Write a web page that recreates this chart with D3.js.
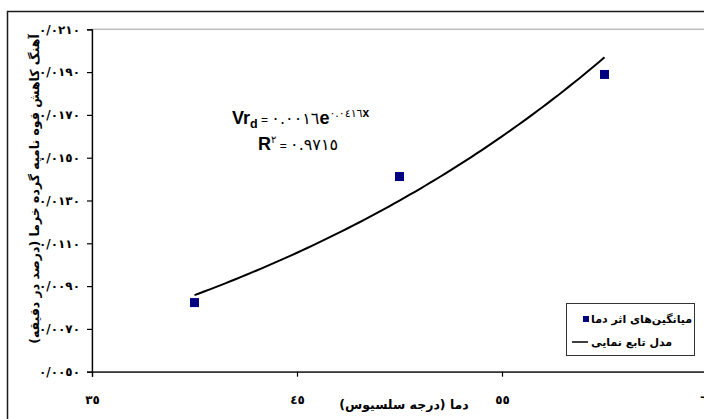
<!DOCTYPE html>
<html>
<head>
<meta charset="utf-8">
<script src="https://cdn.jsdelivr.net/npm/d3@7"></script>
<style>
  html, body { margin: 0; padding: 0; background: #fff; }
  svg { display: block; }
</style>
</head>
<body>
<svg id="chart" width="704" height="419"></svg>
<script>
// Temperature (°C) and mean rate of viability loss of date-palm pollen (% per minute)
const temperatures = [40, 50, 60];
const rates = [0.00823, 0.01412, 0.01889];

const xTickValues = [35, 45, 55, 65];
const xTickLabels = ["٣٥", "٤٥", "٥٥", "٦٥"];
const yTickValues = [0.005, 0.007, 0.009, 0.011, 0.013, 0.015, 0.017, 0.019, 0.021];
const yTickLabels = ["٠/٠٠٥٠", "٠/٠٠٧٠", "٠/٠٠٩٠", "٠/٠١١٠", "٠/٠١٣٠", "٠/٠١٥٠", "٠/٠١٧٠", "٠/٠١٩٠", "٠/٠٢١٠"];

const xTitle = "دما (درجه سلسیوس)";
const yTitle = "آهنگ کاهش قوه نامیه گرده خرما (درصد در دقیقه)";
const legendLabels = ["میانگین‌های اثر دما", "مدل تابع نمایی"];
const eqCoef = "٠.٠٠١٦";
const eqExp = "٠.٠٤١٦";
const r2Text = "٠.٩٧١٥";

const LRM = "\u200E";
const svg = d3.select("#chart");
const FA = "'DejaVu Sans', sans-serif";
const LAT = "'Liberation Sans', Arial, sans-serif";

// outer chart frame
svg.append("rect")
  .attr("x", 7.5).attr("y", 11.5)
  .attr("width", 740).attr("height", 440)
  .attr("fill", "#fff").attr("stroke", "#1a1a1a").attr("stroke-width", 1.5);

const x = d3.scaleLinear().domain([35, 65]).range([92, 707]);
const y = d3.scaleLinear().domain([0.005, 0.021]).range([371.7, 29.3]);

// plot area border (grey)
svg.append("rect")
  .attr("x", x(35)).attr("y", y(0.021))
  .attr("width", x(65) - x(35)).attr("height", y(0.005) - y(0.021))
  .attr("fill", "none").attr("stroke", "#bdbdbd").attr("stroke-width", 1.5);

// axes
const xAxis = d3.axisBottom(x).tickValues(xTickValues).tickSize(5).tickPadding(19)
  .tickFormat((d, i) => xTickLabels[i]);
const yAxis = d3.axisLeft(y).tickValues(yTickValues).tickSize(5).tickPadding(7)
  .tickFormat((d, i) => yTickLabels[i]);

const gx = svg.append("g").attr("transform", `translate(0,${y(0.005)})`).call(xAxis);
const gy = svg.append("g").attr("transform", `translate(${x(35)},0)`).call(yAxis);

[gx, gy].forEach(g => {
  g.select(".domain").attr("stroke", "#000").attr("stroke-width", 1.3);
  g.selectAll(".tick line").attr("stroke", "#000").attr("stroke-width", 1.2);
  g.selectAll(".tick text")
    .attr("fill", "#000")
    .attr("font-family", FA)
    .attr("font-weight", "bold")
    .attr("font-size", 12);
});

// axis titles
svg.append("text")
  .attr("x", 404).attr("y", 409)
  .attr("text-anchor", "middle")
  .attr("font-family", FA).attr("font-weight", "bold").attr("font-size", 12.5)
  .attr("fill", "#000")
  .text(xTitle);

svg.append("text")
  .attr("transform", "translate(39,189) rotate(-90)")
  .attr("text-anchor", "middle")
  .attr("font-family", FA).attr("font-weight", "bold").attr("font-size", 12.5)
  .attr("fill", "#000")
  .text(yTitle);

// exponential trend fitted by least squares on ln(rate)
const lnR = rates.map(Math.log);
const mx = d3.mean(temperatures), my = d3.mean(lnR);
const b = d3.sum(temperatures, (t, i) => (t - mx) * (lnR[i] - my)) / d3.sum(temperatures, t => (t - mx) ** 2);
const a = Math.exp(my - b * mx);
const trend = d3.range(40, 60.01, 0.25).map(t => [t, a * Math.exp(b * t)]);

svg.append("path")
  .datum(trend)
  .attr("fill", "none").attr("stroke", "#000").attr("stroke-width", 2)
  .attr("d", d3.line().x(d => x(d[0])).y(d => y(d[1])));

// mean points
const ms = 9;
svg.selectAll("rect.pt")
  .data(temperatures)
  .join("rect").attr("class", "pt")
  .attr("x", (d) => x(d) - ms / 2)
  .attr("y", (d, i) => y(rates[i]) - ms / 2)
  .attr("width", ms).attr("height", ms)
  .attr("fill", "#000080");

// equation label
const eq = svg.append("text").attr("x", 232).attr("y", 124).attr("fill", "#000");
eq.append("tspan").attr("font-family", LAT).attr("font-weight", "bold").attr("font-size", 18).text("Vr");
eq.append("tspan").attr("font-family", LAT).attr("font-weight", "bold").attr("font-size", 12.5).attr("dy", 4).text("d");
eq.append("tspan").attr("font-family", LAT).attr("font-size", 12).attr("dy", -4).text(" = ");
eq.append("tspan").attr("font-family", FA).attr("font-size", 16).text(eqCoef + LRM);
eq.append("tspan").attr("font-family", LAT).attr("font-weight", "bold").attr("font-size", 18).text("e");
eq.append("tspan").attr("font-family", FA).attr("font-size", 11).attr("dy", -7).text(eqExp + LRM);
eq.append("tspan").attr("font-family", LAT).attr("font-weight", "bold").attr("font-size", 12).text("x");

const r2 = svg.append("text").attr("x", 258).attr("y", 150).attr("fill", "#000");
r2.append("tspan").attr("font-family", LAT).attr("font-weight", "bold").attr("font-size", 18).text("R");
r2.append("tspan").attr("font-family", FA).attr("font-size", 10).attr("dy", -7).text("٢" + LRM);
r2.append("tspan").attr("font-family", LAT).attr("font-size", 12).attr("dy", 7).text(" = ");
r2.append("tspan").attr("font-family", FA).attr("font-size", 16).text(r2Text + LRM);

// legend
const lg = svg.append("g");
lg.append("rect")
  .attr("x", 566.5).attr("y", 303.5).attr("width", 128).attr("height", 52)
  .attr("fill", "#fff").attr("stroke", "#333").attr("stroke-width", 1);
lg.append("rect")
  .attr("x", 583).attr("y", 316).attr("width", 6).attr("height", 6)
  .attr("fill", "#000080");
lg.append("line")
  .attr("x1", 572).attr("x2", 588).attr("y1", 342).attr("y2", 342)
  .attr("stroke", "#000").attr("stroke-width", 1.5);
lg.selectAll("text.lg")
  .data(legendLabels)
  .join("text").attr("class", "lg")
  .attr("x", 591)
  .attr("y", (d, i) => 323 + i * 23)
  .attr("font-family", FA).attr("font-weight", "bold").attr("font-size", 11)
  .attr("fill", "#000")
  .text(d => d);
</script>
</body>
</html>
